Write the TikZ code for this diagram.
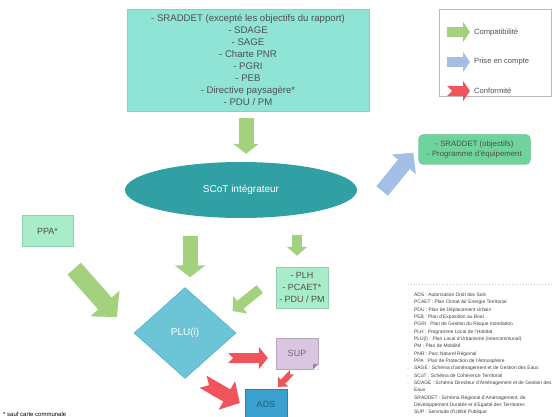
\documentclass[tikz,border=0pt]{standalone}
\usepackage{fontspec}
\setmainfont{Liberation Sans}
\usetikzlibrary{shapes.geometric, arrows.meta, positioning, calc}

\definecolor{textegris}{HTML}{4F4F4F}
\definecolor{turquoise}{HTML}{8FE4D6}
\definecolor{scotfond}{HTML}{31A0A4}
\definecolor{objfond}{HTML}{6ED49C}
\definecolor{objbord}{HTML}{52B982}
\definecolor{vertclair}{HTML}{A9ECCA}
\definecolor{vertbord}{HTML}{93CDB0}
\definecolor{plufond}{HTML}{6CC5D7}
\definecolor{plubord}{HTML}{45A9BD}
\definecolor{supfond}{HTML}{DBC6E1}
\definecolor{supbord}{HTML}{B9A5C0}
\definecolor{adsfond}{HTML}{3BA2CF}
\definecolor{flechevert}{HTML}{A4D17D}
\definecolor{flechebleu}{HTML}{A5BEE3}
\definecolor{flecherouge}{HTML}{F0545A}

\tikzset{
  compat/.style n args={3}{draw=flechevert, line width=#1, -{Triangle[length=#3, width=#2]}},
  prise/.style n args={3}{draw=flechebleu, line width=#1, -{Triangle[length=#3, width=#2]}},
  conf/.style n args={3}{draw=flecherouge, line width=#1, {Triangle Cap[reversed]}-{Triangle[length=#3, width=#2]}},
  boite/.style={draw=vertbord, fill=vertclair, text=textegris, align=center, inner sep=1pt},
  legtexte/.style={anchor=west, text=textegris, font=\fontsize{7.6}{9}\selectfont, inner sep=0pt},
  glose/.style={anchor=north west, inner sep=0pt, align=left, text=textegris!80!black,
    font=\fontsize{4.9}{7.2}\selectfont}
}

\begin{document}
\begin{tikzpicture}[x=1pt, y=-1pt]
\useasboundingbox (0,0) rectangle (555,417);

% --- cadre des documents supérieurs ---
\node[draw=gray!55, fill=turquoise, text=textegris, align=center, minimum width=242, minimum height=102,
  font=\fontsize{9.6}{11.9}\selectfont] (cadre) at (248,60)
  {- SRADDET (excepté les objectifs du rapport)\\- SDAGE\\- SAGE\\- Charte PNR\\- PGRI\\- PEB\\- Directive paysagère*\\- PDU / PM};

% --- légende ---
\node[draw=gray!55, minimum width=112, minimum height=87] (legende) at (495,52.5) {};
\node[legtexte] (leg1) at (474,32) {Compatibilité};
\node[legtexte] (leg2) at (474,62) {Prise en compte};
\node[legtexte] (leg3) at (474,91) {Conformité};
\draw[compat={10pt}{20pt}{7pt}] ($(leg1.west)+(-27,0)$) -- ($(leg1.west)+(-4,0)$);
\draw[prise={10pt}{20pt}{7pt}] ($(leg2.west)+(-27,0)$) -- ($(leg2.west)+(-4,0)$);
\draw[conf={10pt}{20pt}{7pt}] ($(leg3.west)+(-27,0)$) -- ($(leg3.west)+(-4,0)$);

% --- SCoT et documents ---
\node[ellipse, fill=scotfond, text=white, minimum width=232, minimum height=56,
  font=\fontsize{10}{12}\selectfont] (scot) at (241,190) {SCoT intégrateur};
\node[draw=objbord, fill=objfond, rounded corners=5pt, text=textegris, align=center,
  minimum width=112, minimum height=30, inner sep=1pt, font=\fontsize{7.8}{9.4}\selectfont] (obj) at (474.5,149.5)
  {- SRADDET (objectifs)\\- Programme d'équipement};
\node[boite, minimum width=51, minimum height=31, font=\fontsize{9}{11}\selectfont] (ppa) at (47.5,231) {PPA*};
\node[boite, minimum width=52, minimum height=41, font=\fontsize{9}{11.8}\selectfont] (plh) at (302,287.5)
  {- PLH\\- PCAET*\\- PDU / PM};
\node[diamond, draw=plubord, fill=plufond, text=white, minimum width=102, minimum height=91,
  inner sep=0pt, font=\fontsize{10}{12}\selectfont] (plu) at (185,333) {PLU(i)};
\node[draw=supbord, fill=supfond, text=textegris!70!supbord, minimum width=42, minimum height=31,
  font=\fontsize{9}{11}\selectfont] (sup) at (297,353.5) {SUP};
\fill[white] ($(sup.south east)+(-5,0.5)$) -- ($(sup.south east)+(0.5,0.5)$) -- ($(sup.south east)+(0.5,-5)$) -- cycle;
\fill[supbord!80!black] ($(sup.south east)+(-5,0)$) -- ($(sup.south east)+(0,-5)$) -- ($(sup.south east)+(-5,-5)$) -- cycle;
\node[draw=adsfond!80!black, fill=adsfond, text=adsfond!55!black, minimum width=42, minimum height=30,
  font=\fontsize{9}{11}\selectfont] (ads) at (266,404) {ADS};

% --- flèches ---
\draw[compat={15pt}{25pt}{10pt}] ($(cadre.south)+(-2,7)$) -- ($(scot.north -| cadre.south)+(-2,-8)$);
\draw[prise={15pt}{30pt}{15pt}] ($(scot.east)+(25,1)$) -- ($(obj.south west)+(-5,-12)$);
\draw[compat={18pt}{38pt}{18pt}] ($(ppa.south east)+(1,22)$) -- ($(plu.west)+(-17,-16)$);
\draw[compat={15pt}{30pt}{12pt}] ($(plu.north |- scot.south)+(5,18)$) -- ($(plu.north)+(5,-10)$);
\draw[compat={10pt}{20pt}{9pt}] ($(plh.north |- scot.south)+(-5,17)$) -- ($(plh.north)+(-5,-11)$);
\draw[compat={10pt}{22pt}{10pt}] ($(plh.west)+(-16,1.5)$) -- ($(plu.north east)+(22,1)$);
\draw[conf={10pt}{22pt}{9pt}] ($(plu.east)+(-8,25)$) -- ($(sup.west)+(-8,4.5)$);
\draw[conf={14pt}{32pt}{15pt}] ($(plu.south)+(18,3)$) -- ($(ads.west)+(-5,-1)$);
\draw[conf={6pt}{14pt}{7pt}] ($(sup.south)+(-5,3)$) -- ($(ads.north east)+(-9,-2)$);

% --- glossaire ---
\draw[gray!45, dotted, line width=0.8pt] (408,284) -- (553,284);
\foreach \i/\t in {0/ADS : Autorisation Droit des Sols,
  1/PCAET : Plan Climat Air Energie Territorial,
  2/PDU : Plan de Déplacement Urbain,
  3/PEB : Plan d'Exposition au Bruit,
  4/PGRI : Plan de Gestion du Risque Inondation,
  5/PLH : Programme Local de l'Habitat,
  6/PLU(i) : Plan Local d'Urbanisme (Intercommunal),
  7/PM : Plan de Mobilité,
  8/PNR : Parc Naturel Régional,
  9/PPA : Plan de Protection de l'Atmosphère,
  10/SAGE : Schéma d'aménagement et de Gestion des Eaux,
  11/SCoT : Schéma de Cohérence Territorial,
  12/{SDAGE : Schéma Directeur d'Aménagement et de Gestion des\\Eaux},
  14/{SRADDET : Schéma Régional d'Aménagement, de\\Développement Durable et d'Egalité des Territoires},
  16/SUP : Servitude d'Utilité Publique}{
  \node[glose] (g\i) at (414,292.5+7.35*\i) {\t};
  \fill[gray!40] (408,295+7.35*\i) circle (0.6pt);
}

% --- note ---
\node[anchor=base west, inner sep=0pt, font=\fontsize{6}{7}\selectfont] (note) at (3,416) {* sauf carte communale};
\end{tikzpicture}
\end{document}
